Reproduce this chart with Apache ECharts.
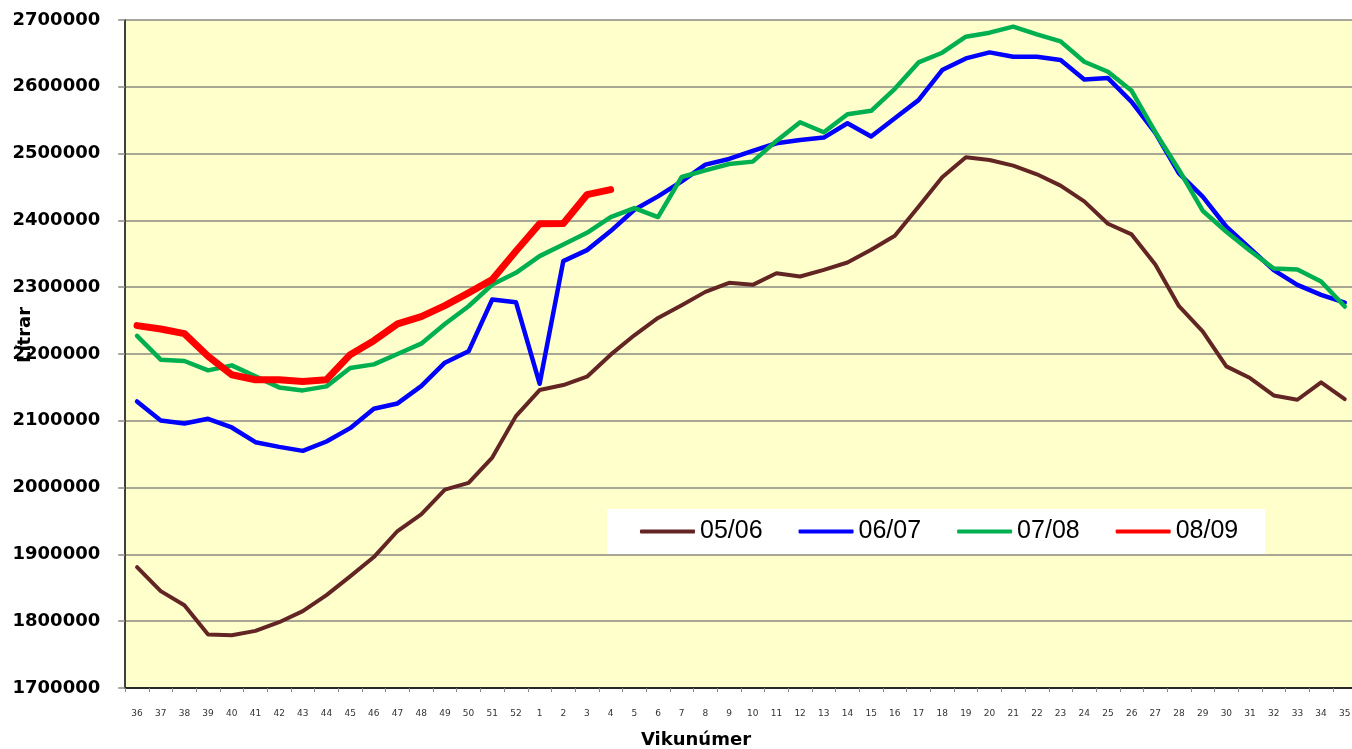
<!DOCTYPE html>
<html>
<head>
<meta charset="utf-8">
<script src="https://cdn.jsdelivr.net/npm/echarts@6/dist/echarts.min.js"></script>
<style>
html,body{margin:0;padding:0;background:#fff;}
#chart{width:1352px;height:749px;}
</style>
</head>
<body>
<div id="chart"></div>
<script>
const weeks = ['36','37','38','39','40','41','42','43','44','45','46','47','48','49','50','51','52',
  '1','2','3','4','5','6','7','8','9','10','11','12','13','14','15','16','17','18','19','20',
  '21','22','23','24','25','26','27','28','29','30','31','32','33','34','35'];

const s0506 = [1881000,1845000,1824000,1780000,1779000,1785500,1798500,1815000,1839000,1867000,
  1896000,1935000,1960000,1997000,2007000,2045000,2107000,2146000,2153500,2166000,2199000,
  2228000,2254000,2273000,2293000,2306500,2303500,2321000,2316000,2326000,2337000,2356000,
  2377000,2420500,2464500,2494500,2490500,2482000,2469000,2452000,2428500,2395000,2379000,
  2334000,2271500,2234000,2181500,2164000,2138000,2131500,2157500,2132500];

const s0607 = [2129000,2100500,2096000,2103000,2090000,2068000,2061000,2055000,2069000,2089000,
  2118000,2126000,2152000,2187000,2204000,2281500,2277500,2155500,2339000,2355500,2384000,
  2416000,2436000,2458500,2483500,2492000,2504000,2515500,2520500,2524000,2545500,2525500,
  2553000,2580000,2625000,2642500,2651500,2645000,2645000,2640000,2611000,2613000,2577500,
  2531000,2470500,2435500,2390500,2358000,2325500,2303500,2288500,2277000];

const s0708 = [2227000,2191500,2189500,2175500,2183000,2166500,2150000,2145500,2151500,2179000,
  2184500,2200000,2215500,2245000,2271500,2304000,2321500,2346500,2364000,2381500,2405000,
  2418500,2405000,2465000,2475000,2484500,2488000,2519000,2547000,2532000,2559000,2564000,
  2597000,2636500,2651000,2675000,2681000,2690000,2678500,2668000,2637500,2622500,2594000,
  2532000,2475500,2414500,2383000,2354500,2328000,2326500,2308500,2271000];

const s0809 = [2242500,2237500,2230500,2196500,2169000,2161500,2161500,2159000,2161500,2199000,
  2220000,2245000,2256000,2272500,2291500,2311500,2354000,2395000,2395500,2438500,2446000];

const seriesNames = ['05/06','06/07','07/08','08/09'];
const seriesData = [s0506, s0607, s0708, s0809];
const colors = ['#632523','#0000FF','#00B050','#FF0000'];
const widths = [4, 4.5, 4.5, 7];

const chart = echarts.init(document.getElementById('chart'));
chart.setOption({
  animation: false,
  grid: { left: 125.2, top: 20, width: 1231.4, height: 668, backgroundColor: '#FFFFCC', show: true, borderWidth: 0,
          containLabel: false, outerBoundsMode: 'none' },
  legend: {
    data: seriesNames,
    left: 607, top: 509,
    backgroundColor: '#ffffff',
    padding: [10, 27, 10, 33],
    icon: 'roundRect',
    itemWidth: 55, itemHeight: 4, itemGap: 36,
    textStyle: { fontFamily: 'Liberation Sans, Arial, sans-serif', fontSize: 25, color: '#000' }
  },
  xAxis: {
    type: 'category',
    data: weeks,
    boundaryGap: true,
    axisLine: { lineStyle: { color: '#000', width: 1.5 } },
    axisTick: { show: true, length: 4, lineStyle: { color: '#888' } },
    axisLabel: { interval: 0, margin: 21, fontSize: 9, fontFamily: 'DejaVu Sans', color: '#333' },
    splitLine: { show: false }
  },
  yAxis: {
    type: 'value',
    min: 1700000, max: 2700000, interval: 100000,
    axisLine: { show: true, lineStyle: { color: '#000', width: 1.5 } },
    axisTick: { show: true, length: 7, lineStyle: { color: '#8a8a80', width: 1.5 } },
    axisLabel: { margin: 25, fontSize: 18, fontWeight: 'bold', fontFamily: 'DejaVu Sans', color: '#000',
                 formatter: v => String(v) },
    splitLine: { show: true, lineStyle: { color: '#8a8a80', width: 1.5 } }
  },
  graphic: [
    { type: 'text', x: 696, y: 740, style: { text: 'Vikunúmer', font: 'bold 18px DejaVu Sans', fill: '#000', textAlign: 'center', textVerticalAlign: 'middle' } },
    { type: 'text', x: 25, y: 335, rotation: Math.PI / 2, style: { text: 'Lítrar', font: 'bold 18px DejaVu Sans', fill: '#000', textAlign: 'center', textVerticalAlign: 'middle' } }
  ],
  series: seriesNames.map((n, i) => ({
    name: n,
    type: 'line',
    data: seriesData[i],
    symbol: 'none',
    showSymbol: false,
    color: colors[i],
    itemStyle: { color: colors[i] },
    lineStyle: { color: colors[i], width: widths[i], cap: 'round', join: 'round' },
    z: 2 + i
  }))
});
</script>
</body>
</html>
